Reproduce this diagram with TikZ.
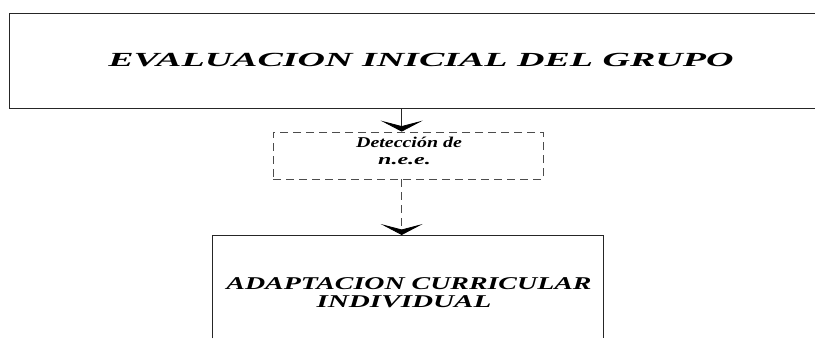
\documentclass[tikz,border=0pt]{standalone}
\usepackage{fontspec}
\setmainfont{Liberation Serif}
\usetikzlibrary{arrows.meta}
\newcommand\stretchx[2]{\scalebox{#1}[1]{#2}}
\begin{document}
\begin{tikzpicture}[x=1pt,y=-1pt,
  boxline/.style={draw=black!85,line width=0.8pt},
  dashline/.style={draw=black!70,line width=0.8pt,dash pattern=on 8pt off 5pt},
  arr/.style={-{Stealth[length=11pt,width=42pt,inset=5.5pt,black]}},
  lbl/.style={inner sep=0pt,anchor=base}]
\useasboundingbox[fill=white] (0,0) rectangle (815,338);
% top box
\node[inner sep=0pt,minimum width=806pt,minimum height=95pt,anchor=north west] (top) at (9,13) {};
\draw[boxline] (top.north east) -- (top.north west) -- (top.south west) -- (top.south east);
\node[lbl,font=\fontsize{20}{24}\selectfont\bfseries\itshape] (toptxt) at (421,66) {\stretchx{1.9}{EVALUACION INICIAL DEL GRUPO}};
% dashed box
\node[dashline,inner sep=0pt,minimum width=270pt,minimum height=47pt] (det) at (408,155.5) {};
\node[lbl,font=\fontsize{15}{18}\selectfont\bfseries\itshape] (det1) at (409,147.3) {\stretchx{1.33}{Detección de}};
\node[lbl,font=\fontsize{15}{18}\selectfont\bfseries\itshape] (det2) at (404.5,164.7) {\stretchx{1.6}{n.e.e.}};
% bottom box
\node[inner sep=0pt,minimum width=391pt,minimum height=103pt,anchor=north west] (aci) at (212,235) {};
\draw[boxline] (aci.south west) -- (aci.north west) -- (aci.north east) -- (aci.south east);
\node[lbl,font=\fontsize{18}{22}\selectfont\bfseries\itshape] (aci1) at (409,289.5) {\stretchx{1.55}{ADAPTACION CURRICULAR}};
\node[lbl,font=\fontsize{18}{22}\selectfont\bfseries\itshape] (aci2) at (404,307.5) {\stretchx{1.62}{INDIVIDUAL}};
% connectors
\coordinate (ax) at (401.7,0);
\draw[boxline,arr] (ax |- top.south) -- (ax |- det.north);
\draw[dashline,arr] (ax |- det.south) -- (ax |- aci.north);
\end{tikzpicture}
\end{document}
